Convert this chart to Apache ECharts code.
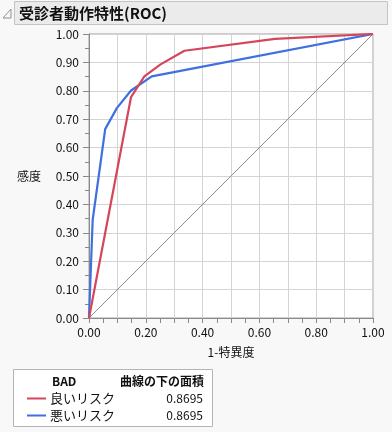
<!DOCTYPE html>
<html><head><meta charset="utf-8">
<script src="https://cdn.jsdelivr.net/npm/echarts@6/dist/echarts.min.js"></script>
<style>html,body{margin:0;padding:0;background:#f8f8f8;}#c{width:392px;height:432px;}</style>
</head><body><div id="c"></div>
<script>
const titleText = '受診者動作特性(ROC)';
const xName = '1-特異度';
const yName = '感度';
const legendHeader = 'BAD';
const aucHeader = '曲線の下の面積';
const seriesNames = ['良いリスク', '悪いリスク'];
const aucValues = ['0.8695', '0.8695'];
const goodX = [0, 0.148, 0.195, 0.252, 0.336, 0.655, 1];
const goodY = [0, 0.778, 0.851, 0.893, 0.941, 0.983, 1];
const badX = [0, 0.013, 0.057, 0.098, 0.148, 0.221, 1];
const badY = [0, 0.346, 0.665, 0.739, 0.801, 0.851, 1];
const diagX = [0, 1];
const diagY = [0, 1];
const colors = ['#d4465c', '#3f6fe0'];
const font = '"Noto Sans CJK JP", "Noto Sans", sans-serif';

const zip = (xs, ys) => xs.map((x, i) => [x, ys[i]]);
const chart = echarts.init(document.getElementById('c'), null, {renderer: 'canvas'});
const gridL = 89, gridT = 34, gridW = 284, gridH = 284;

chart.setOption({
  backgroundColor: '#f8f8f8',
  animation: false,
  textStyle: {fontFamily: font},
  grid: {left: gridL, top: gridT, width: gridW, height: gridH, show: true,
         backgroundColor: '#ffffff', borderColor: '#a0a0a0', borderWidth: 1},
  xAxis: {
    type: 'value', min: 0, max: 1, interval: 0.1,
    axisLine: {show: true, lineStyle: {color: '#8a8a8a'}},
    axisTick: {show: true, length: 5, lineStyle: {color: '#8a8a8a'}},
    minorTick: {show: true, splitNumber: 2, length: 5, lineStyle: {color: '#8a8a8a'}},
    splitLine: {show: true, lineStyle: {color: '#d4d4d4', width: 1}},
    axisLabel: {margin: 8, fontSize: 12, color: '#111', fontFamily: font,
      formatter: v => (Math.round(v * 10) % 2 === 0 ? v.toFixed(2) : '')}
  },
  yAxis: {
    type: 'value', min: 0, max: 1, interval: 0.1,
    axisLine: {show: true, lineStyle: {color: '#8a8a8a'}},
    axisTick: {show: true, length: 6, lineStyle: {color: '#8a8a8a'}},
    minorTick: {show: true, splitNumber: 2, length: 4, lineStyle: {color: '#8a8a8a'}},
    splitLine: {show: true, lineStyle: {color: '#d4d4d4', width: 1}},
    axisLabel: {margin: 10, fontSize: 12, color: '#111', fontFamily: font,
      formatter: v => v.toFixed(2)}
  },
  series: [
    {type: 'line', data: zip(diagX, diagY), symbol: 'none', silent: true,
     lineStyle: {color: '#8c8c8c', width: 1}, z: 1},
    {name: seriesNames[0], type: 'line', data: zip(goodX, goodY), symbol: 'none',
     lineStyle: {color: colors[0], width: 2.2}, z: 3},
    {name: seriesNames[1], type: 'line', data: zip(badX, badY), symbol: 'none',
     lineStyle: {color: colors[1], width: 2.2}, z: 2}
  ],
  graphic: [
    {type: 'rect', shape: {x: 14.5, y: 1.5, width: 373, height: 23},
     style: {fill: '#ebebeb', stroke: '#c4c4c4', lineWidth: 1}},
    {type: 'polygon', shape: {points: [[11, 9], [11, 18], [3, 18]]},
     style: {fill: '#f8f8f8', stroke: '#909090', lineWidth: 1}},
    {type: 'text', x: 19, y: 13, style: {text: titleText, font: 'bold 15px ' + font,
     fill: '#111', textVerticalAlign: 'middle'}},
    {type: 'text', x: 29, y: 176, style: {text: yName, font: '12px ' + font,
     fill: '#111', textAlign: 'center', textVerticalAlign: 'middle'}},
    {type: 'text', x: 231, y: 352, style: {text: xName, font: '12px ' + font,
     fill: '#111', textAlign: 'center', textVerticalAlign: 'middle'}},
    {type: 'rect', shape: {x: 13.5, y: 369.5, width: 199, height: 57},
     style: {fill: '#ffffff', stroke: '#b4b4b4', lineWidth: 1}},
    {type: 'text', x: 52, y: 381, style: {text: legendHeader, font: 'bold 12px ' + font,
     fill: '#111', textVerticalAlign: 'middle'}},
    {type: 'text', x: 204, y: 381, style: {text: aucHeader, font: 'bold 12px ' + font,
     fill: '#111', textAlign: 'right', textVerticalAlign: 'middle'}},
    {type: 'line', shape: {x1: 27, y1: 398.5, x2: 46, y2: 398.5},
     style: {stroke: colors[0], lineWidth: 2}},
    {type: 'text', x: 50, y: 398, style: {text: seriesNames[0], font: '13px ' + font,
     fill: '#111', textVerticalAlign: 'middle'}},
    {type: 'text', x: 203, y: 398, style: {text: aucValues[0], font: '12px ' + font,
     fill: '#111', textAlign: 'right', textVerticalAlign: 'middle'}},
    {type: 'line', shape: {x1: 27, y1: 415.5, x2: 46, y2: 415.5},
     style: {stroke: colors[1], lineWidth: 2}},
    {type: 'text', x: 50, y: 415, style: {text: seriesNames[1], font: '13px ' + font,
     fill: '#111', textVerticalAlign: 'middle'}},
    {type: 'text', x: 203, y: 415, style: {text: aucValues[1], font: '12px ' + font,
     fill: '#111', textAlign: 'right', textVerticalAlign: 'middle'}}
  ]
});
</script></body></html>
